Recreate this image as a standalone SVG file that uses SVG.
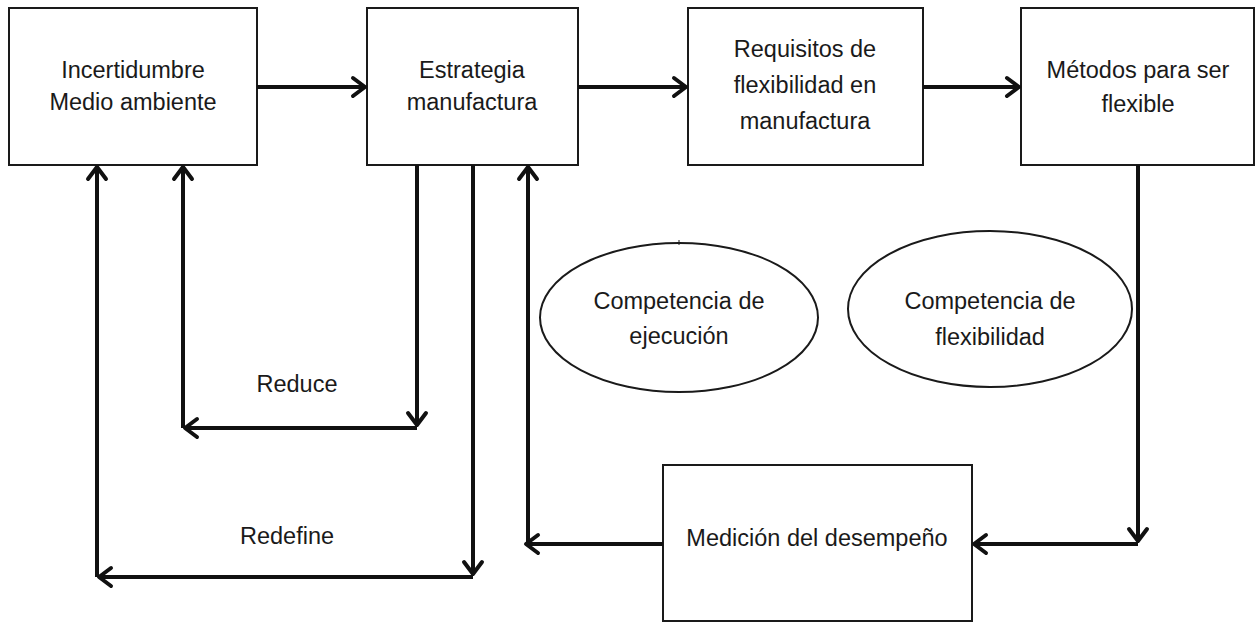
<svg xmlns="http://www.w3.org/2000/svg" width="1257" height="623" viewBox="0 0 1257 623">
<style>
.box{fill:#fff;stroke:#1a1a1a;stroke-width:2}
.ell{fill:#fff;stroke:#1a1a1a;stroke-width:2}
.t{font-family:"Liberation Sans",Arial,sans-serif;font-size:23.5px;fill:#1a1a1a;text-anchor:middle}
.c{fill:none;stroke:#111;stroke-width:4;stroke-linejoin:round}
</style>
<defs>
<marker id="ah" markerUnits="userSpaceOnUse" viewBox="-20 -15 30 30" markerWidth="30" markerHeight="30" refX="0" refY="0" orient="auto" overflow="visible">
<path d="M-12,-9 L0,0 L-12,9" fill="none" stroke="#111" stroke-width="4" stroke-linecap="round" stroke-linejoin="round"/>
</marker>
</defs>
<rect width="1257" height="623" fill="#fff"/>
<g id="n1"><rect class="box" x="9" y="8" width="248" height="157"/><text class="t" x="133" y="78">Incertidumbre</text><text class="t" x="133" y="110">Medio ambiente</text></g>
<g id="n2"><rect class="box" x="367" y="8" width="211" height="157"/><text class="t" x="472" y="78">Estrategia</text><text class="t" x="472" y="110">manufactura</text></g>
<g id="n3"><rect class="box" x="688" y="8" width="235" height="157"/><text class="t" x="805" y="57">Requisitos de</text><text class="t" x="805" y="93">flexibilidad en</text><text class="t" x="805" y="129">manufactura</text></g>
<g id="n4"><rect class="box" x="1021" y="8" width="233" height="157"/><text class="t" x="1138" y="78">Métodos para ser</text><text class="t" x="1138" y="112">flexible</text></g>
<g id="n5"><rect class="box" x="663" y="465" width="309" height="156"/><text class="t" x="817" y="546">Medición del desempeño</text></g>
<g id="n6"><ellipse class="ell" cx="679" cy="317.5" rx="139" ry="74.5"/><line x1="679" y1="240" x2="679" y2="245" stroke="#1a1a1a" stroke-width="1"/><text class="t" x="679" y="309">Competencia de</text><text class="t" x="679" y="344">ejecución</text></g>
<g id="n7"><ellipse class="ell" cx="990" cy="309" rx="142" ry="78"/><text class="t" x="990" y="309">Competencia de</text><text class="t" x="990" y="345">flexibilidad</text></g>
<g id="connectors">
<path class="c" d="M257,87 H365" marker-end="url(#ah)"/>
<path class="c" d="M578,87 H686" marker-end="url(#ah)"/>
<path class="c" d="M923,87 H1019" marker-end="url(#ah)"/>
<path class="c" d="M1138,165 V541" marker-end="url(#ah)"/>
<path class="c" d="M1138,544 H974" marker-end="url(#ah)"/>
<path class="c" d="M663,544 H526" marker-end="url(#ah)"/>
<path class="c" d="M528,544 V167" marker-end="url(#ah)"/>
<path class="c" d="M417,165 V425" marker-end="url(#ah)"/>
<path class="c" d="M417,428 H185" marker-end="url(#ah)"/>
<path class="c" d="M183,428 V167" marker-end="url(#ah)"/>
<path class="c" d="M473,165 V574" marker-end="url(#ah)"/>
<path class="c" d="M473,577 H99" marker-end="url(#ah)"/>
<path class="c" d="M97,577 V167" marker-end="url(#ah)"/>
</g>
<g id="labels">
<text class="t" x="297" y="392">Reduce</text>
<text class="t" x="287" y="544">Redefine</text>
</g>
</svg>
